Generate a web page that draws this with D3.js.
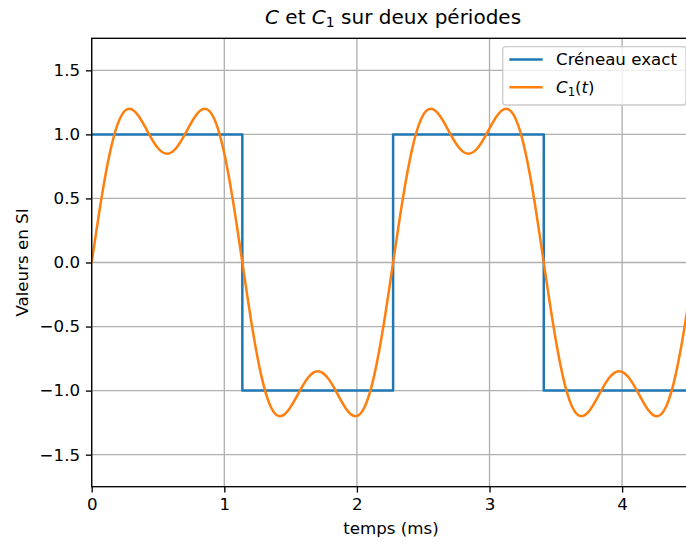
<!DOCTYPE html>
<html><head><meta charset="utf-8">
<script src="https://cdn.jsdelivr.net/npm/d3@7"></script>
<style>body{margin:0;background:#fff} svg{display:block} text{font-family:"DejaVu Sans",sans-serif}</style>
</head><body><svg id="c" width="686" height="542"></svg>
<script>
// Data
const squareTimes = [0, 1.136, 2.273, 3.409, 4.545];
const squareValues = [1, -1, 1, -1, -1];
const c1Times = [0.000,0.071,0.142,0.213,0.284,0.355,0.426,0.497,0.568,0.639,0.710,0.781,0.852,0.923,0.994,1.065,
  1.136,1.207,1.278,1.349,1.420,1.491,1.563,1.634,1.705,1.776,1.847,1.918,1.989,2.060,2.131,2.202,
  2.273,2.344,2.415,2.486,2.557,2.628,2.699,2.770,2.841,2.912,2.983,3.054,3.125,3.196,3.267,3.338,
  3.409,3.480,3.551,3.622,3.693,3.764,3.835,3.906,3.977,4.048,4.119,4.190,4.261,4.332,4.403,4.474,4.545];
const c1Values = [0,0.484,0.879,1.124,1.200,1.141,1.014,0.896,0.849,0.896,1.014,1.141,1.200,1.124,0.879,0.484,
  0,-0.484,-0.879,-1.124,-1.200,-1.141,-1.014,-0.896,-0.849,-0.896,-1.014,-1.141,-1.200,-1.124,-0.879,-0.484,
  0,0.484,0.879,1.124,1.200,1.141,1.014,0.896,0.849,0.896,1.014,1.141,1.200,1.124,0.879,0.484,
  0,-0.484,-0.879,-1.124,-1.200,-1.141,-1.014,-0.896,-0.849,-0.896,-1.014,-1.141,-1.200,-1.124,-0.879,-0.484,0];
const xTicks = [0, 1, 2, 3, 4];
const yTicks = [-1.5, -1.0, -0.5, 0.0, 0.5, 1.0, 1.5];
const xDomain = [0, 4.545];
const yDomain = [-1.75, 1.75];

const svg = d3.select("#c");
const L = 91.7, R = 694.4, T = 38.3, B = 486.7;
const x = d3.scaleLinear().domain(xDomain).range([L, R]);
const y = d3.scaleLinear().domain(yDomain).range([B, T]);
const fs = 16.67, tick = 5.83, gridW = 1.33;
const fmtY = d => d3.format(".1f")(d).replace("-", "\u2212");

// grid
const g = svg.append("g");
g.selectAll(".gx").data(xTicks).join("line")
  .attr("x1", d => x(d)).attr("x2", d => x(d)).attr("y1", T).attr("y2", B)
  .attr("stroke", "#b0b0b0").attr("stroke-width", gridW);
g.selectAll(".gy").data(yTicks).join("line")
  .attr("x1", L).attr("x2", R).attr("y1", d => y(d)).attr("y2", d => y(d))
  .attr("stroke", "#b0b0b0").attr("stroke-width", gridW);

// clip
svg.append("clipPath").attr("id", "clip").append("rect")
  .attr("x", L).attr("y", T).attr("width", R - L).attr("height", B - T);

const sq = squareTimes.map((t, i) => [t, squareValues[i]]);
svg.append("path").datum(sq).attr("clip-path", "url(#clip)")
  .attr("fill", "none").attr("stroke", "#1f77b4").attr("stroke-width", 2.5)
  .attr("stroke-linejoin", "round")
  .attr("d", d3.line().x(d => x(d[0])).y(d => y(d[1])).curve(d3.curveStepAfter));

const c1 = c1Times.map((t, i) => [t, c1Values[i]]);
svg.append("path").datum(c1).attr("clip-path", "url(#clip)")
  .attr("fill", "none").attr("stroke", "#ff7f0e").attr("stroke-width", 2.5)
  .attr("d", d3.line().x(d => x(d[0])).y(d => y(d[1])).curve(d3.curveNatural));

// axes
const ax = svg.append("g").attr("transform", `translate(0,${B})`)
  .call(d3.axisBottom(x).tickValues(xTicks).tickFormat(d3.format("d")).tickSize(tick).tickPadding(tick));
const ay = svg.append("g").attr("transform", `translate(${L},0)`)
  .call(d3.axisLeft(y).tickValues(yTicks).tickFormat(fmtY).tickSize(tick).tickPadding(tick));
[ax, ay].forEach(a => {
  a.select(".domain").remove();
  a.selectAll("line").attr("stroke", "#000").attr("stroke-width", 1.33);
  a.selectAll("text").attr("font-size", fs).attr("fill", "#000").style("font-family", "DejaVu Sans");
});

// spines
svg.append("rect").attr("x", L).attr("y", T).attr("width", R - L).attr("height", B - T)
  .attr("fill", "none").attr("stroke", "#000").attr("stroke-width", 1.33);

// labels
svg.append("text").attr("x", 391).attr("y", 534).attr("text-anchor", "middle")
  .attr("font-size", fs).text("temps (ms)");
svg.append("text").attr("transform", `translate(27.5,${(T + B) / 2}) rotate(-90)`)
  .attr("text-anchor", "middle").attr("font-size", fs).text("Valeurs en SI");

// title
const title = svg.append("text").attr("x", (L + R) / 2).attr("y", 24).attr("text-anchor", "middle").attr("font-size", 20);
title.append("tspan").attr("font-style", "italic").text("C");
title.append("tspan").text(" et ");
title.append("tspan").attr("font-style", "italic").text("C");
title.append("tspan").attr("font-size", 14).attr("dy", 3).text("1");
title.append("tspan").attr("dy", -3).text(" sur deux périodes");

// legend
const lg = svg.append("g");
lg.append("rect").attr("x", 502.7).attr("y", 46.6).attr("width", 183.3).attr("height", 58.4)
  .attr("rx", 3).attr("fill", "#fff").attr("fill-opacity", 0.8)
  .attr("stroke", "#cccccc").attr("stroke-width", 1.33);
const items = [{c: "#1f77b4", y: 59.5}, {c: "#ff7f0e", y: 87.3}];
items.forEach(it => {
  lg.append("line").attr("x1", 509.3).attr("x2", 542.6).attr("y1", it.y).attr("y2", it.y)
    .attr("stroke", it.c).attr("stroke-width", 2.5);
});
lg.append("text").attr("x", 556).attr("y", 59.5).attr("dy", "0.35em").attr("font-size", fs).text("Créneau exact");
const t2 = lg.append("text").attr("x", 556).attr("y", 87.3).attr("dy", "0.35em").attr("font-size", fs);
t2.append("tspan").attr("font-style", "italic").text("C");
t2.append("tspan").attr("font-size", 11.7).attr("dy", 3).text("1");
t2.append("tspan").attr("dy", -3).text("(");
t2.append("tspan").attr("font-style", "italic").text("t");
t2.append("tspan").text(")");
</script></body></html>
